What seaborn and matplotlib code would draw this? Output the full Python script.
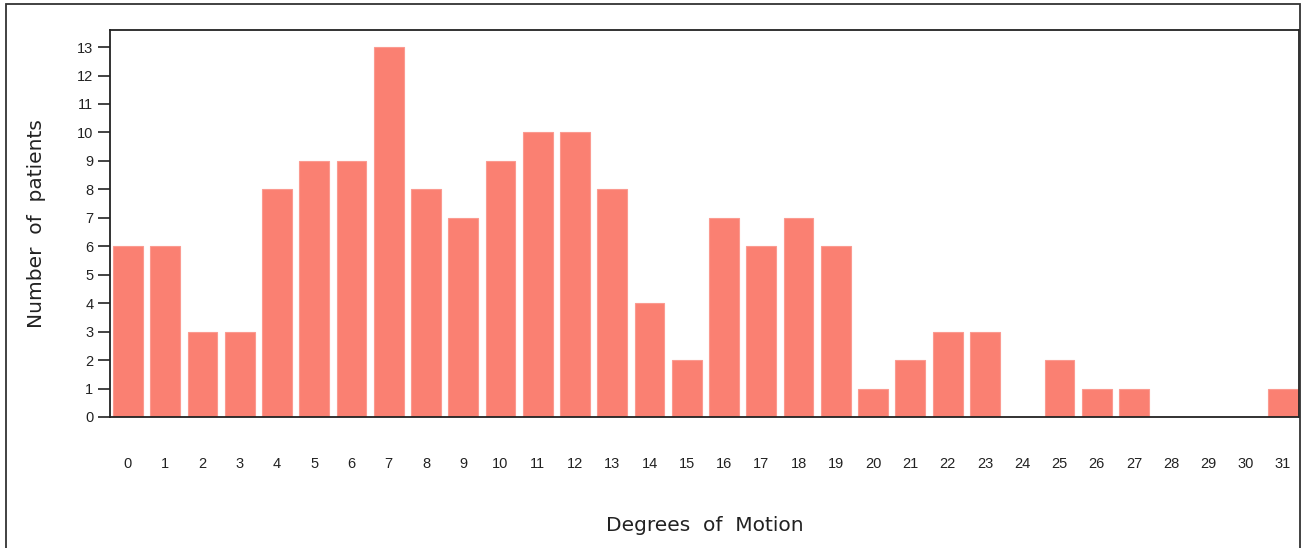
import matplotlib
matplotlib.use("Agg")
import matplotlib.pyplot as plt
import seaborn as sns
from matplotlib.patches import Rectangle

degrees = list(range(32))
patients = [6, 6, 3, 3, 8, 9, 9, 13, 8, 7, 9, 10, 10, 8, 4, 2,
            7, 6, 7, 6, 1, 2, 3, 3, 0, 2, 1, 1, 0, 0, 0, 1]
y_ticks = list(range(14))

sns.set_theme(style="white")
plt.rcParams['font.family'] = ['Liberation Sans', 'DejaVu Sans']

fig = plt.figure(figsize=(13.02, 5.48), dpi=100)
ax = fig.add_axes([110/1302, 1-417/548, (1299-110)/1302, (417-30)/548])

sns.barplot(x=degrees, y=patients, order=degrees, color="#FA8072",
            saturation=1, width=0.8, ax=ax, edgecolor="#FB9A90", linewidth=0.8)

ax.set_xlim(-0.48, 31.43)
ax.set_ylim(0, 13.6)
ax.set_yticks(y_ticks)
ax.set_yticklabels([str(v) for v in y_ticks], fontsize=10.5)
ax.set_xticks(range(len(degrees)))
ax.set_xticklabels([str(d) for d in degrees], fontsize=10.5)
ax.tick_params(axis='x', length=0, pad=29, colors='#222222')
ax.tick_params(axis='y', length=9, width=1.2, pad=3, left=True, direction='out', colors='#222222')

for s in ax.spines.values():
    s.set_visible(True)
    s.set_color('#222222')
    s.set_linewidth(1.3)

ax.set_xlabel("Degrees  of  Motion", fontsize=14.5, labelpad=32, color='#222222',
              family='DejaVu Sans')
ax.set_ylabel("Number  of  patients", fontsize=14.5, labelpad=22, color='#222222',
              family='DejaVu Sans')

fig.patches.append(Rectangle((6/1302, -0.01), (1300-6)/1302, 1.01 - 4/548,
                             transform=fig.transFigure, fill=False,
                             edgecolor='#333333', linewidth=1.3))

fig.savefig("out.png", dpi=100)
